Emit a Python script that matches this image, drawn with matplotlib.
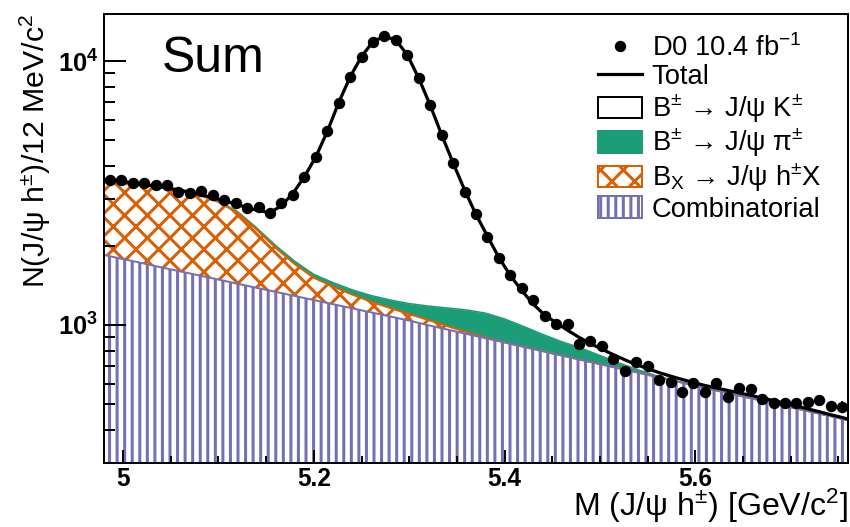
import numpy as np
import matplotlib.pyplot as plt
from matplotlib.lines import Line2D
from matplotlib.patches import Patch
from matplotlib.ticker import MultipleLocator, LogLocator, NullFormatter

DPI = 136


def px(n):
    # pixels -> points at the figure dpi
    return n * 72 / DPI


plt.rcParams['font.family'] = ['Liberation Sans', 'DejaVu Sans']
plt.rcParams['mathtext.fontset'] = 'custom'
plt.rcParams['mathtext.rm'] = 'Liberation Sans'
plt.rcParams['mathtext.it'] = 'Liberation Sans:italic'
plt.rcParams['mathtext.bf'] = 'Liberation Sans:bold'
plt.rcParams['hatch.linewidth'] = 1.6

GREEN = '#1b9e77'
ORANGE = '#d95f02'
PURPLE = '#7570b3'

# data histogram, 12 MeV bins from 4.98 to 5.76 GeV
bin_lo, bin_hi, bin_w = 4.98, 5.76, 0.012
counts = [3540, 3540, 3460, 3460, 3390, 3390, 3200, 3170, 3220, 3105,
          2976, 2890, 2767, 2806, 2650, 2890, 3105, 3646, 4318, 5447,
          6955, 8675, 10380, 11833, 12437, 12012, 10537, 8602, 6813, 5245,
          4120, 3200, 2630, 2161, 1789, 1545, 1377, 1243, 1082, 1009,
          1009, 847, 872, 835, 741, 670, 726, 699, 619, 610,
          559, 601, 559, 601, 535, 575, 570, 523, 505, 505,
          505, 510, 520, 493, 491]

# total fit, read at the bin centres, plus the two range edges
fit_total = [3540, 3500, 3455, 3410, 3360, 3305, 3245, 3180, 3110, 3035,
             2955, 2870, 2785, 2710, 2665, 2830, 3150, 3640, 4330, 5400,
             6950, 8700, 10400, 11850, 12400, 12000, 10550, 8600, 6800, 5250,
             4110, 3250, 2620, 2170, 1800, 1540, 1350, 1200, 1090, 1020,
             955, 898, 850, 810, 772, 738, 708, 683, 660, 640,
             622, 605, 590, 577, 565, 553, 541, 529, 517, 505,
             493, 481, 469, 457, 446]
fit_lo, fit_hi = 3560, 440

# background components, read every 20 MeV
curve_x = [4.98, 5.00, 5.02, 5.04, 5.06, 5.08, 5.10, 5.12, 5.14, 5.16,
           5.18, 5.20, 5.22, 5.24, 5.26, 5.28, 5.30, 5.32, 5.34, 5.36,
           5.38, 5.40, 5.42, 5.44, 5.46, 5.48, 5.50, 5.52, 5.54, 5.56,
           5.58, 5.60, 5.62, 5.64, 5.66, 5.68, 5.70, 5.72, 5.74, 5.76]
combinatorial = [1842, 1777, 1715, 1653, 1596, 1540, 1486, 1433, 1383, 1335,
                 1288, 1243, 1199, 1157, 1116, 1077, 1039, 998, 961, 925,
                 891, 859, 827, 796, 766, 738, 711, 685, 660, 635,
                 612, 589, 567, 546, 526, 507, 488, 470, 453, 436]
bx_hx = [1618, 1643, 1661, 1665, 1650, 1565, 1438, 1227, 917, 625,
         412, 267, 201, 148, 109, 83, 61, 47, 29, 15,
         6, 0, 0, 0, 0, 0, 0, 0, 0, 0,
         0, 0, 0, 0, 0, 0, 0, 0, 0, 0]
b_pi = [15, 16, 17, 18, 20, 22, 25, 30, 35, 40,
        43, 45, 48, 55, 68, 84, 105, 135, 170, 200,
        212, 195, 160, 125, 98, 80, 55, 33, 16, 6,
        2, 0, 0, 0, 0, 0, 0, 0, 0, 0]

mass = np.arange(bin_lo + bin_w / 2, bin_hi, bin_w)
counts = np.array(counts)
total_x = np.concatenate([[bin_lo], mass, [bin_hi]])
total_y = np.concatenate([[fit_lo], fit_total, [fit_hi]])

lvl1 = np.array(combinatorial)
lvl2 = lvl1 + np.array(bx_hx)
lvl3 = lvl2 + np.array(b_pi)

fig = plt.figure(figsize=(850 / DPI, 527 / DPI), dpi=DPI)
ax = fig.add_axes([104 / 850, 64 / 527, 744 / 850, 449 / 527])

ax.fill_between(curve_x, 1, lvl1, facecolor='white', edgecolor=PURPLE,
                hatch='|||', linewidth=0)
ax.fill_between(curve_x, lvl1, lvl2, facecolor='white', edgecolor=ORANGE,
                hatch='xx', linewidth=0)
ax.fill_between(curve_x, lvl2, lvl3, facecolor=GREEN, edgecolor=GREEN,
                linewidth=0)
ax.plot(curve_x, lvl3, color=GREEN, lw=px(1.5))
ax.plot(curve_x, lvl2, color=ORANGE, lw=px(2))
ax.plot(curve_x, lvl1, color=PURPLE, lw=px(2))
ax.plot(total_x, total_y, color='black', lw=px(3.2), zorder=4)
ax.errorbar(mass, counts, yerr=np.sqrt(counts), fmt='o', color='black',
            ms=px(9.5), elinewidth=px(2), capsize=0, zorder=5)

ax.set_yscale('log')
ax.set_xlim(bin_lo, bin_hi)
ax.set_ylim(300, 15070)

ax.set_xticks([5.0, 5.2, 5.4, 5.6], ['5', '5.2', '5.4', '5.6'],
              fontweight='bold', fontsize=13)
ax.set_yticks([1e3, 1e4], [r'$\mathbf{10^{3}}$', r'$\mathbf{10^{4}}$'],
              fontsize=13.5)
ax.xaxis.set_minor_locator(MultipleLocator(0.05))
ax.yaxis.set_minor_locator(LogLocator(subs=np.arange(2, 10)))
ax.yaxis.set_minor_formatter(NullFormatter())

ax.tick_params(which='both', direction='in', top=False, right=False,
               width=px(2))
ax.tick_params(axis='x', which='major', length=px(13), pad=px(4))
ax.tick_params(axis='x', which='minor', length=px(7))
ax.tick_params(axis='y', which='major', length=px(22), pad=px(6))
ax.tick_params(axis='y', which='minor', length=px(11))
for s in ax.spines.values():
    s.set_linewidth(px(2))

ax.set_xlabel(r'M (J/ψ h$^{\pm}$) [GeV/c$^{2}$]', fontsize=17, loc='right')
ax.xaxis.set_label_coords(1.0, -0.052)
ax.set_ylabel(r'N(J/ψ h$^{\pm}$)/12 MeV/c$^{2}$', fontsize=16, loc='top')
ax.yaxis.set_label_coords(-0.068, 1.0)

fig.text(162 / 850, 1 - 72 / 527, 'Sum', fontsize=26.5, va='baseline')

handles = [
    Line2D([], [], ls='none', marker='o', color='black', ms=px(9.5)),
    Line2D([], [], color='black', lw=px(3.2)),
    Patch(facecolor='white', edgecolor='black', lw=px(2)),
    Patch(facecolor=GREEN, edgecolor=GREEN, lw=px(2)),
    Patch(facecolor='white', edgecolor=ORANGE, hatch='xx', lw=px(2)),
    Patch(facecolor='white', edgecolor=PURPLE, hatch='|||', lw=px(2)),
]
labels = ['D0 10.4 fb$^{-1}$', 'Total',
          r'B$^{\pm}$ → J/ψ K$^{\pm}$', r'B$^{\pm}$ → J/ψ π$^{\pm}$',
          r'B$_{\mathrm{X}}$ → J/ψ h$^{\pm}$X', 'Combinatorial']
fig.legend(handles, labels, loc='upper left',
           bbox_to_anchor=(598 / 850, 1 - 34 / 527),
           frameon=False, fontsize=14.5, borderpad=0, borderaxespad=0,
           handlelength=1.6, handleheight=0.84, handletextpad=0.36,
           labelspacing=0.08)

fig.savefig('out.png', dpi=DPI)
